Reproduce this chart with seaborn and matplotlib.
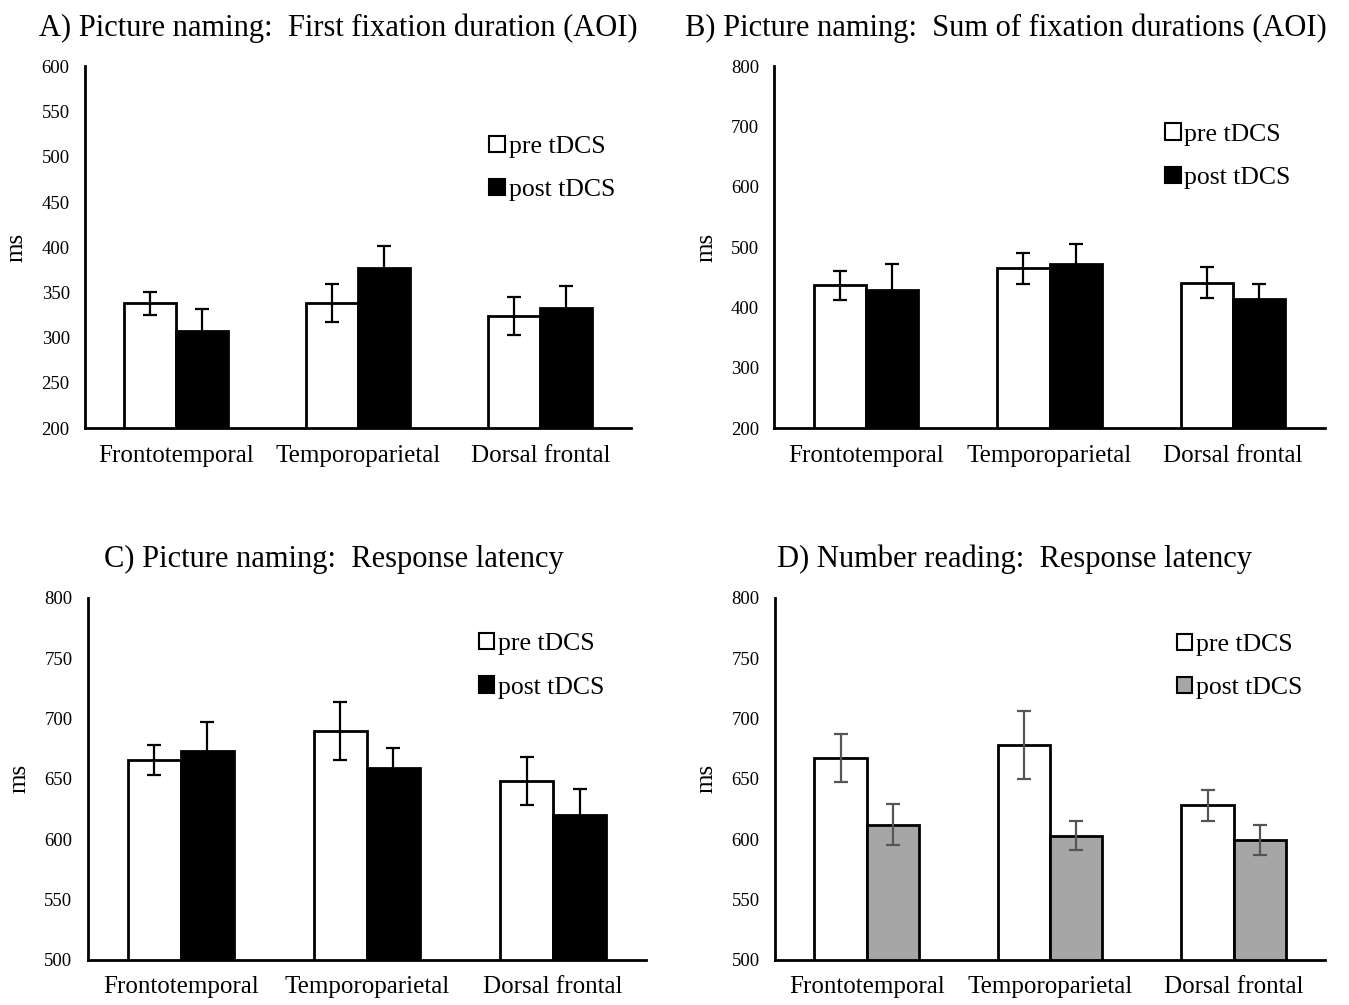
import matplotlib.pyplot as plt
import pandas as pd
import seaborn as sns
from matplotlib.patches import Patch

# Categories and series
regions = ['Frontotemporal', 'Temporoparietal', 'Dorsal frontal']
sessions = ['pre tDCS', 'post tDCS']

# A) Picture naming: first fixation duration (AOI)
a_pre = [338, 338, 324]
a_post = [307, 377, 333]
a_pre_err = [12.5, 21, 21]
a_post_err = [25, 24, 24]

# B) Picture naming: sum of fixation durations (AOI)
b_pre = [437, 465, 441]
b_post = [429, 473, 414]
b_pre_err = [24, 26, 26]
b_post_err = [43, 32, 25]

# C) Picture naming: response latency
c_pre = [666, 690, 648]
c_post = [673, 659, 620]
c_pre_err = [12.5, 24, 20]
c_post_err = [24, 17, 22]

# D) Number reading: response latency
d_pre = [667, 678, 628]
d_post = [612, 603, 599]
d_pre_err = [20, 28, 13]
d_post_err = [17, 12, 12.5]

sns.set_style('white')
plt.rcParams['font.family'] = ['Liberation Serif', 'DejaVu Serif']
plt.rcParams['text.color'] = 'black'
plt.rcParams['axes.labelcolor'] = 'black'
plt.rcParams['xtick.color'] = 'black'
plt.rcParams['ytick.color'] = 'black'


def draw_panel(ax, pre, post, pre_err, post_err, ylim, step, title, title_x,
               post_color, err_color, leg_xy):
    df = pd.DataFrame({
        'region': regions * 2,
        'session': [sessions[0]] * 3 + [sessions[1]] * 3,
        'value': pre + post,
        'err': pre_err + post_err,
    })
    sns.barplot(data=df, x='region', y='value', hue='session', order=regions,
                hue_order=sessions, palette={sessions[0]: 'white', sessions[1]: post_color},
                edgecolor='black', linewidth=2, width=0.57, errorbar=None,
                legend=False, ax=ax)
    # error bars on the bar centres
    for patch, (_, row) in zip(ax.patches, df.iterrows()):
        cx = patch.get_x() + patch.get_width() / 2
        ax.errorbar(cx, row['value'], yerr=row['err'], color=err_color,
                    capsize=5, elinewidth=1.6, capthick=1.6, zorder=5)

    ax.set_ylim(*ylim)
    ax.set_yticks(range(ylim[0], ylim[1] + 1, step))
    ax.set_xlim(-0.5, 2.5)
    ax.set_xticks([-0.5, 0.5, 1.5, 2.5], minor=False)
    ax.set_xticklabels([])
    ax.set_xticks([0, 1, 2], minor=True)
    ax.set_xticklabels(regions, minor=True, fontsize=18)
    ax.tick_params(axis='x', which='major', direction='out', length=7, width=1.5, color='black')
    ax.tick_params(axis='x', which='minor', length=0, pad=12)
    ax.tick_params(axis='y', direction='out', length=5, width=1.5, color='black',
                   labelsize=13.5, pad=6)
    ax.set_xlabel('')
    ax.set_ylabel('ms', fontsize=18, labelpad=10)
    for side in ['top', 'right']:
        ax.spines[side].set_visible(False)
    for side in ['left', 'bottom']:
        ax.spines[side].set_color('black')
        ax.spines[side].set_linewidth(2)
    ax.set_title(title, fontsize=22, x=title_x, pad=22)

    handles = [Patch(facecolor='white', edgecolor='black', linewidth=1.5),
               Patch(facecolor=post_color, edgecolor='black', linewidth=1.5)]
    ax.legend(handles, sessions, loc='upper left', bbox_to_anchor=leg_xy,
              frameon=False, fontsize=18.5, handlelength=0.6, handleheight=0.6,
              handletextpad=0.15, labelspacing=0.82, borderpad=0, borderaxespad=0)


fig = plt.figure(figsize=(13.49, 10.05), dpi=100)
ax_a = fig.add_axes([0.063, 0.574, 0.405, 0.360])
ax_b = fig.add_axes([0.574, 0.574, 0.408, 0.360])
ax_c = fig.add_axes([0.065, 0.045, 0.414, 0.360])
ax_d = fig.add_axes([0.5745, 0.045, 0.408, 0.360])

draw_panel(ax_a, a_pre, a_post, a_pre_err, a_post_err, (200, 600), 50,
           'A) Picture naming:  First fixation duration (AOI)', 0.463,
           'black', 'black', (0.74, 0.808))
draw_panel(ax_b, b_pre, b_post, b_pre_err, b_post_err, (200, 800), 100,
           'B) Picture naming:  Sum of fixation durations (AOI)', 0.421,
           'black', 'black', (0.71, 0.842))
draw_panel(ax_c, c_pre, c_post, c_pre_err, c_post_err, (500, 800), 50,
           'C) Picture naming:  Response latency', 0.44,
           'black', 'black', (0.70, 0.903))
draw_panel(ax_d, d_pre, d_post, d_pre_err, d_post_err, (500, 800), 50,
           'D) Number reading:  Response latency', 0.435,
           '#a6a6a6', '#555555', (0.73, 0.901))

fig.savefig('out.png', dpi=100)
